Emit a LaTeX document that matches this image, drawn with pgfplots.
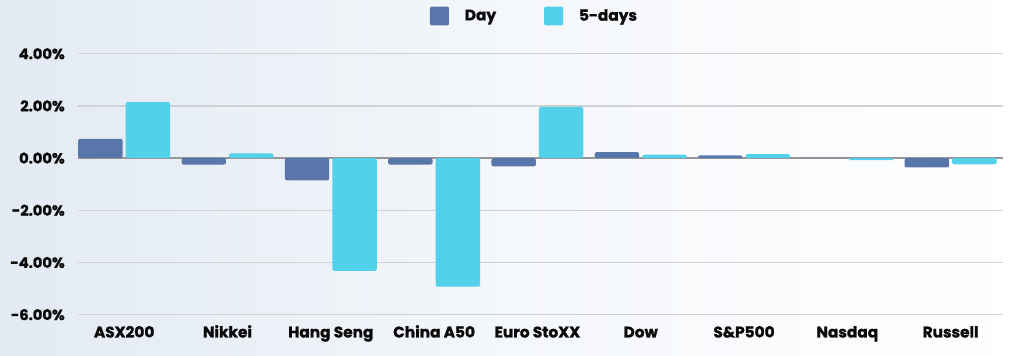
\documentclass[border=0pt]{standalone}
\usepackage{pgfplots}
\pgfplotsset{compat=1.18}
\usepackage{pgfplotstable}
\usepackage{fontspec}
\setmainfont{Poppins}[BoldFeatures={FakeBold=1.3}]
\definecolor{dayc}{RGB}{89,118,171}
\definecolor{fivec}{RGB}{83,209,234}
\definecolor{bgl}{RGB}{226,234,243}
\definecolor{gridc}{RGB}{210,210,212}
\definecolor{zeroc}{RGB}{150,150,152}
\definecolor{txt}{RGB}{10,10,10}
\pgfplotstableread{
x day five
0 0.74 2.15
1 -0.25 0.18
2 -0.85 -4.32
3 -0.25 -4.93
4 -0.32 1.96
5 0.23 0.13
6 0.10 0.15
7 0.00 -0.08
8 -0.36 -0.24
}\mydata
\begin{document}
\begin{tikzpicture}
\shade[left color=bgl, right color=white, middle color={rgb,255:red,244;green,247;blue,251}] (0,0) rectangle (768pt,267pt);
\begin{axis}[
  at={(58.5pt,31pt)}, anchor=south west,
  scale only axis, width=693.75pt, height=195.7pt,
  xmin=-0.447, xmax=8.507, ymin=-6, ymax=4,
  ytick={-6,-4,...,4},
  ymajorgrids, grid style={gridc, line width=1.1pt},
  extra y ticks={0}, extra y tick labels={},
  extra y tick style={grid style={zeroc, line width=1.5pt}},
  separate axis lines,
  axis line style={draw=none},
  major tick length=0pt, tick style={draw=none},
  xtick={0,...,8},
  xticklabels={ASX200,Nikkei,Hang Seng,China A50,Euro StoXX,Dow,S\&P500,Nasdaq,Russell},
  /pgf/number format/assume math mode=true,
  yticklabel={\pgfmathprintnumber[fixed,fixed zerofill,precision=2]{\tick}\%},
  yticklabel style={font=\fontsize{11}{13}\selectfont\bfseries, text=txt, anchor=east, inner sep=0pt, xshift=-9.75pt},
  xticklabel style={font=\fontsize{11.5}{13}\selectfont\bfseries, text=txt, anchor=north, inner sep=0pt, text height=8pt, text depth=2pt, yshift=-8.9pt},
  legend columns=2,
  legend style={at={(0.4924,1.1446)}, anchor=center, draw=none, fill=none,
    font=\fontsize{11.5}{13}\selectfont\bfseries, text=txt,
    nodes={inner sep=0pt},
    column sep=0pt,
    /tikz/every odd column/.append style={column sep=12pt},
    /tikz/every even column/.append style={column sep=36pt}},
]
\addplot[ybar, bar width=0.43, bar shift=-0.23, fill=dayc, draw=none, rounded corners=1.5pt,
  legend image code/.code={\fill[dayc, rounded corners=1pt] (0pt,-7.1pt) rectangle (14.2pt,7.1pt);}]
  table[x=x, y=day] {\mydata};
\addlegendentry{Day}
\addplot[ybar, bar width=0.43, bar shift=0.23, fill=fivec, draw=none, rounded corners=1.5pt,
  legend image code/.code={\fill[fivec, rounded corners=1pt] (0pt,-7.1pt) rectangle (14.2pt,7.1pt);}]
  table[x=x, y=five] {\mydata};
\addlegendentry{5-days}
\end{axis}
\end{tikzpicture}
\end{document}
